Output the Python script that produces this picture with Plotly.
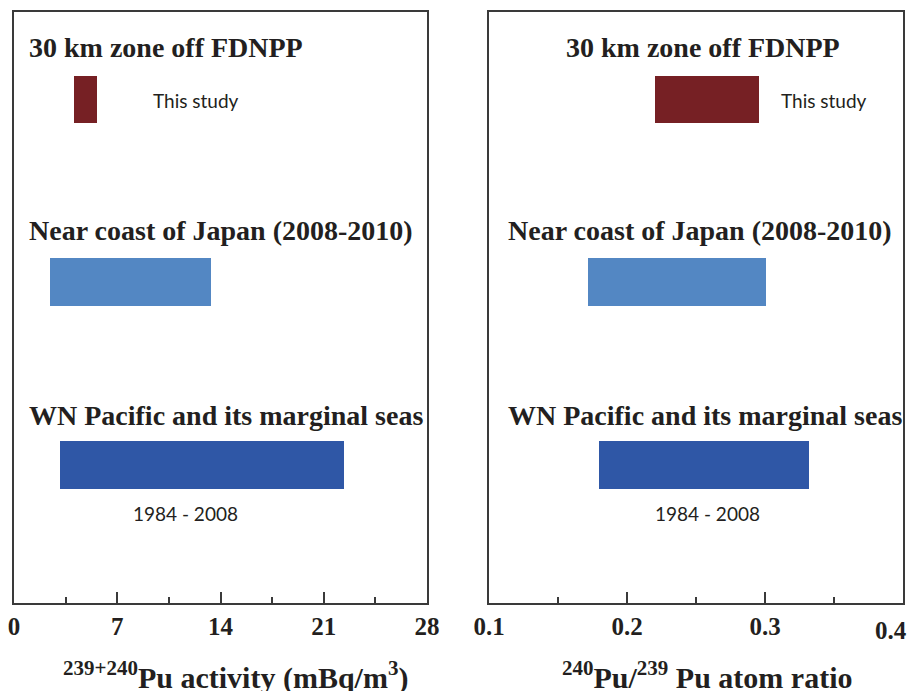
import plotly.graph_objects as go

categories = ["30 km zone off FDNPP", "Near coast of Japan (2008-2010)", "WN Pacific and its marginal seas"]
colors = ["#762024", "#5387C3", "#2F57A6"]
y_pos = [0.852, 0.543, 0.234]

activity_low = [4.1, 2.45, 3.1]
activity_high = [5.6, 13.35, 22.4]

ratio_low = [0.220, 0.172, 0.180]
ratio_high = [0.296, 0.301, 0.332]

left_ticks = [0, 7, 14, 21, 28]
right_ticks = [0.1, 0.2, 0.3, 0.4]

fig = go.Figure()

fig.add_trace(go.Bar(
    orientation="h", y=y_pos, base=activity_low,
    x=[h - l for h, l in zip(activity_high, activity_low)],
    width=0.081, marker=dict(color=colors, line=dict(width=0)),
    xaxis="x", yaxis="y", showlegend=False, hoverinfo="skip"))
fig.add_trace(go.Bar(
    orientation="h", y=y_pos, base=ratio_low,
    x=[h - l for h, l in zip(ratio_high, ratio_low)],
    width=0.081, marker=dict(color=colors, line=dict(width=0)),
    xaxis="x2", yaxis="y2", showlegend=False, hoverinfo="skip"))

line_col = "#3a3a3a"
tickfont = dict(family="Liberation Serif", size=25, color="#231f20", weight="bold")
axis_common = dict(showline=True, linecolor=line_col, linewidth=2, mirror=True,
                   showgrid=False, zeroline=False, ticks="inside", ticklen=11,
                   tickwidth=1.5, tickcolor=line_col, tickfont=tickfont, automargin=False,
                   ticklabeloverflow="allow")
yaxis_common = dict(range=[0, 1], showticklabels=False, showline=True, linecolor=line_col,
                    linewidth=2, mirror=True, showgrid=False, zeroline=False, ticks="",
                    automargin=False)

# page body adds an 8px offset, so the figure is laid out 8px smaller
FIG_W, FIG_H = 913, 683
ML, MR, MT, MB = 6, 18, 4, 88
W_PLOT = FIG_W - ML - MR

# the last right-hand tick label sits at the page edge; it is drawn as an
# annotation pinned near the right edge so it stays fully visible
right_ticktext = [f"{v:.1f}" for v in right_ticks]
edge_label = right_ticktext[-1]
right_ticktext_axis = right_ticktext[:-1] + [""]

fig.update_layout(
    width=FIG_W, height=FIG_H,
    margin=dict(l=ML, r=MR, t=MT, b=MB, autoexpand=False),
    paper_bgcolor="white", plot_bgcolor="white",
    xaxis=dict(domain=[0, 413 / W_PLOT], range=[0, 28], tickvals=left_ticks,
               minor=dict(dtick=3.5, ticks="inside", ticklen=6, tickcolor=line_col, tickwidth=1.5),
               **axis_common),
    xaxis2=dict(domain=[475 / W_PLOT, 1], range=[0.1, 0.4], tickvals=right_ticks,
                ticktext=right_ticktext_axis,
                minor=dict(dtick=0.05, ticks="inside", ticklen=6, tickcolor=line_col, tickwidth=1.5),
                anchor="y2", **axis_common),
    yaxis=dict(**yaxis_common),
    yaxis2=dict(anchor="x2", **yaxis_common),
    bargap=0,
)

title_font = dict(family="Liberation Serif", size=28, color="#231f20")
label_font = dict(family="Lato", size=19, color="#231f20")
title_y = [0.940, 0.631, 0.318]
left_title_x = [0.9, 0.9, 0.9]
right_title_x = [0.1545, 0.1125, 0.1125]

annotations = []
for i, cat in enumerate(categories):
    annotations.append(dict(xref="x", yref="y", x=left_title_x[i], y=title_y[i],
                            text=f"<b>{cat}</b>", showarrow=False, xanchor="left",
                            yanchor="middle", font=title_font))
    annotations.append(dict(xref="x2", yref="y2", x=right_title_x[i], y=title_y[i],
                            text=f"<b>{cat}</b>", showarrow=False, xanchor="left",
                            yanchor="middle", font=title_font))

axis_title_font = dict(family="Liberation Serif", size=30, color="#231f20")
annotations += [
    dict(xref="x", yref="y", x=9.3, y=0.850, text="This study", showarrow=False,
         xanchor="left", yanchor="middle", font=label_font),
    dict(xref="x2", yref="y2", x=0.310, y=0.850, text="This study", showarrow=False,
         xanchor="left", yanchor="middle", font=label_font),
    dict(xref="x", yref="y", x=11.6, y=0.151, text="1984 - 2008", showarrow=False,
         xanchor="center", yanchor="middle", font=label_font),
    dict(xref="x2", yref="y2", x=0.2585, y=0.151, text="1984 - 2008", showarrow=False,
         xanchor="center", yanchor="middle", font=label_font),
    dict(xref="paper", yref="paper", x=(FIG_W - ML - 12) / W_PLOT, y=-0.046,
         text=f"<b>{edge_label}</b>", showarrow=False, xanchor="right", yanchor="middle",
         font=dict(family="Liberation Serif", size=25, color="#231f20")),
    dict(xref="x", yref="paper", x=15.0, y=-0.122,
         text="<b><sup>239+240</sup>Pu activity (mBq/m<sup>3</sup>)</b>", showarrow=False,
         xanchor="center", yanchor="middle", font=axis_title_font),
    dict(xref="x2", yref="paper", x=0.2586, y=-0.122,
         text="<b><sup>240</sup>Pu/<sup>239</sup> Pu atom ratio</b>", showarrow=False,
         xanchor="center", yanchor="middle", font=axis_title_font),
]
fig.update_layout(annotations=annotations)

fig.write_html("out.html")
